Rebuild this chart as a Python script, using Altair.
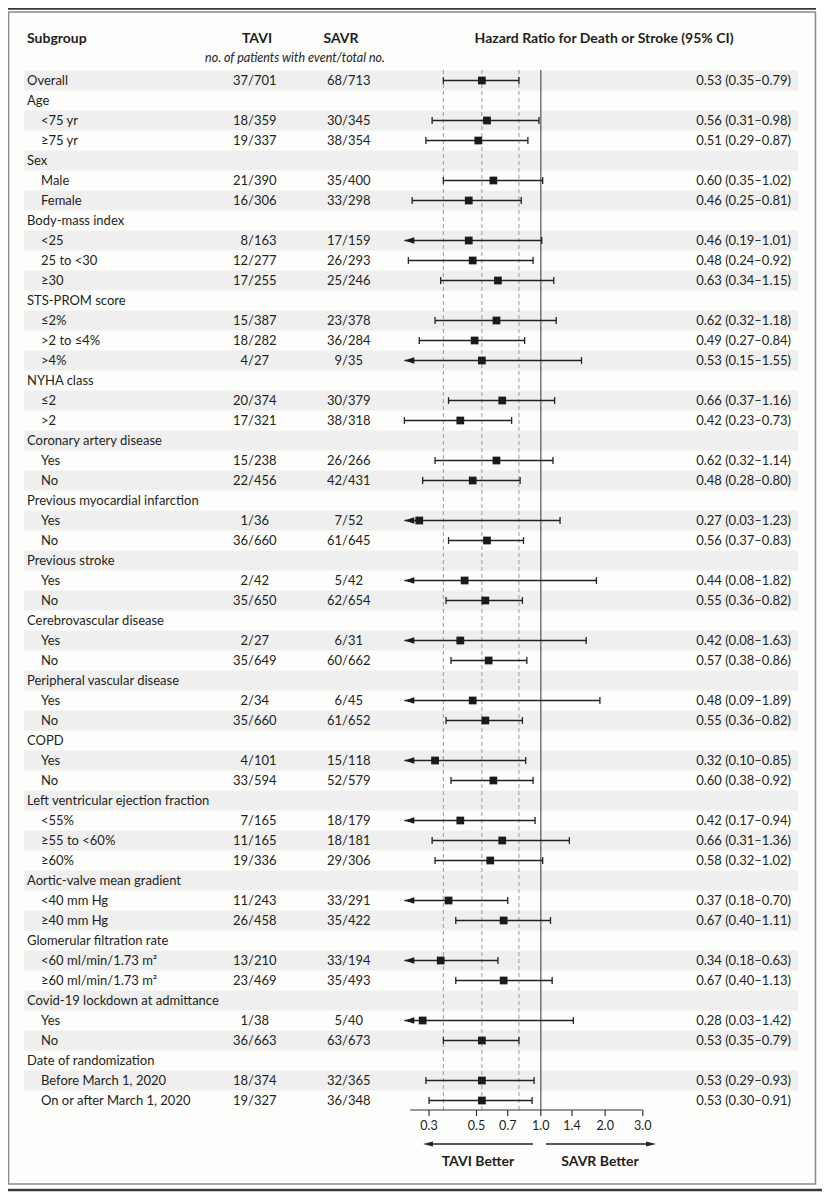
import altair as alt
import pandas as pd
import numpy as np

labels = [
    "Overall", "Age", "<75 yr", "≥75 yr", "Sex", "Male", "Female",
    "Body-mass index", "<25", "25 to <30", "≥30",
    "STS-PROM score", "≤2%", ">2 to ≤4%", ">4%",
    "NYHA class", "≤2", ">2",
    "Coronary artery disease", "Yes", "No",
    "Previous myocardial infarction", "Yes", "No",
    "Previous stroke", "Yes", "No",
    "Cerebrovascular disease", "Yes", "No",
    "Peripheral vascular disease", "Yes", "No",
    "COPD", "Yes", "No",
    "Left ventricular ejection fraction", "<55%", "≥55 to <60%", "≥60%",
    "Aortic-valve mean gradient", "<40 mm Hg", "≥40 mm Hg",
    "Glomerular filtration rate", "<60 ml/min/1.73 m²", "≥60 ml/min/1.73 m²",
    "Covid-19 lockdown at admittance", "Yes", "No",
    "Date of randomization", "Before March 1, 2020", "On or after March 1, 2020",
]
level = [0, 0, 1, 1, 0, 1, 1,
         0, 1, 1, 1,
         0, 1, 1, 1,
         0, 1, 1,
         0, 1, 1,
         0, 1, 1,
         0, 1, 1,
         0, 1, 1,
         0, 1, 1,
         0, 1, 1,
         0, 1, 1, 1,
         0, 1, 1,
         0, 1, 1,
         0, 1, 1,
         0, 1, 1]
N = None
tavi_events = [37, N, 18, 19, N, 21, 16, N, 8, 12, 17, N, 15, 18, 4, N, 20, 17, N, 15, 22,
               N, 1, 36, N, 2, 35, N, 2, 35, N, 2, 35, N, 4, 33, N, 7, 11, 19, N, 11, 26,
               N, 13, 23, N, 1, 36, N, 18, 19]
tavi_total = [701, N, 359, 337, N, 390, 306, N, 163, 277, 255, N, 387, 282, 27, N, 374, 321, N, 238, 456,
              N, 36, 660, N, 42, 650, N, 27, 649, N, 34, 660, N, 101, 594, N, 165, 165, 336, N, 243, 458,
              N, 210, 469, N, 38, 663, N, 374, 327]
savr_events = [68, N, 30, 38, N, 35, 33, N, 17, 26, 25, N, 23, 36, 9, N, 30, 38, N, 26, 42,
               N, 7, 61, N, 5, 62, N, 6, 60, N, 6, 61, N, 15, 52, N, 18, 18, 29, N, 33, 35,
               N, 33, 35, N, 5, 63, N, 32, 36]
savr_total = [713, N, 345, 354, N, 400, 298, N, 159, 293, 246, N, 378, 284, 35, N, 379, 318, N, 266, 431,
              N, 52, 645, N, 42, 654, N, 31, 662, N, 45, 652, N, 118, 579, N, 179, 181, 306, N, 291, 422,
              N, 194, 493, N, 40, 673, N, 365, 348]
hazard = [0.53, N, 0.56, 0.51, N, 0.60, 0.46, N, 0.46, 0.48, 0.63, N, 0.62, 0.49, 0.53, N, 0.66, 0.42,
          N, 0.62, 0.48, N, 0.27, 0.56, N, 0.44, 0.55, N, 0.42, 0.57, N, 0.48, 0.55, N, 0.32, 0.60,
          N, 0.42, 0.66, 0.58, N, 0.37, 0.67, N, 0.34, 0.67, N, 0.28, 0.53, N, 0.53, 0.53]
ci_low = [0.35, N, 0.31, 0.29, N, 0.35, 0.25, N, 0.19, 0.24, 0.34, N, 0.32, 0.27, 0.15, N, 0.37, 0.23,
          N, 0.32, 0.28, N, 0.03, 0.37, N, 0.08, 0.36, N, 0.08, 0.38, N, 0.09, 0.36, N, 0.10, 0.38,
          N, 0.17, 0.31, 0.32, N, 0.18, 0.40, N, 0.18, 0.40, N, 0.03, 0.35, N, 0.29, 0.30]
ci_high = [0.79, N, 0.98, 0.87, N, 1.02, 0.81, N, 1.01, 0.92, 1.15, N, 1.18, 0.84, 1.55, N, 1.16, 0.73,
           N, 1.14, 0.80, N, 1.23, 0.83, N, 1.82, 0.82, N, 1.63, 0.86, N, 1.89, 0.82, N, 0.85, 0.92,
           N, 0.94, 1.36, 1.02, N, 0.70, 1.11, N, 0.63, 1.13, N, 1.42, 0.79, N, 0.93, 0.91]
tick_values = [0.3, 0.5, 0.7, 1.0, 1.4, 2.0, 3.0]
x_domain = [0.23, 3.0]

df = pd.DataFrame({
    "row": list(range(len(labels))), "label": labels, "level": level,
    "te": tavi_events, "tt": tavi_total, "se": savr_events, "st": savr_total,
    "hr": hazard, "lo": ci_low, "hi": ci_high,
})

def num(v):
    return "" if pd.isna(v) else str(int(v))

def den(v):
    return "" if pd.isna(v) else "/" + str(int(v))

df["tavi_num"] = df["te"].map(num)
df["tavi_den"] = df["tt"].map(den)
df["savr_num"] = df["se"].map(num)
df["savr_den"] = df["st"].map(den)
df["hr_text"] = [
    "" if pd.isna(h) else f"{h:.2f} ({l:.2f}–{u:.2f})" for h, l, u in zip(df.hr, df.lo, df.hi)
]
df["lo_plot"] = np.maximum(df["lo"], x_domain[0])
df["ra"] = df["row"] - 0.17
df["rb"] = df["row"] + 0.17
df["r0"] = df["row"] - 0.5
df["r1"] = df["row"] + 0.5
dfp = df[df["hr"].notna()].copy()

nrow = len(labels)
y_scale = alt.Scale(domain=[0, nrow - 1], range=[72.5, 72.5 + 20 * (nrow - 1)], zero=False, nice=False)
x_scale = alt.Scale(type="log", domain=x_domain, range=[396.4, 634.8], nice=False)

FONT = "Lato"
TXT = "#231f20"
one = pd.DataFrame({"k": [0]})

def Y(f):
    return alt.Y(f"{f}:Q", scale=y_scale, axis=None)

def X(f):
    return alt.X(f"{f}:Q", scale=x_scale, axis=None)

layers = []

# frame
layers.append(alt.Chart(one).mark_rule(color="#3a3a3a", strokeWidth=2.5).encode(
    x=alt.value(0), x2=alt.value(808), y=alt.value(0.5)))
layers.append(alt.Chart(one).mark_rect(fill="#fdfdfb", stroke="#8a8a8a", strokeWidth=1.5).encode(
    x=alt.value(0.5), x2=alt.value(807.5), y=alt.value(4), y2=alt.value(1176)))
layers.append(alt.Chart(one).mark_rule(color="#3a3a3a", strokeWidth=2.5).encode(
    x=alt.value(0), x2=alt.value(814), y=alt.value(1182)))

# shaded rows
layers.append(alt.Chart(df).transform_filter("datum.row % 2 == 0").mark_rect(color="#efefef").encode(
    x=alt.value(16), x2=alt.value(790), y=Y("r0"), y2="r1:Q"))

# reference lines
ov = dfp.iloc[0]
refs = pd.DataFrame({"v": [ov["lo"], ov["hr"], ov["hi"]]})
layers.append(alt.Chart(refs).mark_rule(color="#9a9a9a", strokeWidth=1, strokeDash=[4, 3]).encode(
    x=X("v"), y=alt.value(62), y2=alt.value(1102)))
layers.append(alt.Chart(one).mark_rule(color="#555555", strokeWidth=1.2).encode(
    x=alt.datum(1.0, scale=x_scale, axis=None), y=alt.value(62), y2=alt.value(1102)))

# forest
layers.append(alt.Chart(dfp).mark_rule(color="#222222", strokeWidth=1.6).encode(
    x=X("lo_plot"), x2="hi:Q", y=Y("row")))
layers.append(alt.Chart(dfp).mark_rule(color="#222222", strokeWidth=1.3).encode(
    x=X("hi"), y=Y("ra"), y2="rb:Q"))
layers.append(alt.Chart(dfp).transform_filter(f"datum.lo >= {x_domain[0]}").mark_rule(
    color="#222222", strokeWidth=1.3).encode(x=X("lo"), y=Y("ra"), y2="rb:Q"))
layers.append(alt.Chart(dfp).transform_filter(f"datum.lo < {x_domain[0]}").mark_point(
    shape="M 0 0 L 3.3 -1.05 L 3.3 1.05 Z", size=36, filled=True, color="#1a1a1a", opacity=1).encode(
    x=X("lo_plot"), y=Y("row")))
layers.append(alt.Chart(dfp).mark_square(size=60, color="#1a1a1a", opacity=1).encode(
    x=X("hr"), y=Y("row")))

# table text
tstyle = dict(font=FONT, fontSize=13, color=TXT, baseline="middle")
for lv, xpos in [(0, 19), (1, 33)]:
    layers.append(alt.Chart(df).transform_filter(f"datum.level == {lv}").mark_text(align="left", **tstyle).encode(
        x=alt.value(xpos), y=Y("row"), text="label:N"))
for f, xpos, al in [("tavi_num", 240, "right"), ("tavi_den", 240, "left"),
                    ("savr_num", 334, "right"), ("savr_den", 334, "left"),
                    ("hr_text", 783, "right")]:
    layers.append(alt.Chart(dfp).mark_text(align=al, **tstyle).encode(
        x=alt.value(xpos), y=Y("row"), text=f"{f}:N"))

# headers
hstyle = dict(font=FONT, fontSize=14, fontWeight="bold", color=TXT, baseline="middle")
for txt, xpos, al in [("Subgroup", 19, "left"), ("TAVI", 249, "center"), ("SAVR", 333, "center"),
                      ("Hazard Ratio for Death or Stroke (95% CI)", 596, "center")]:
    layers.append(alt.Chart(one).mark_text(text=txt, align=al, **hstyle).encode(
        x=alt.value(xpos), y=alt.value(30.5)))
layers.append(alt.Chart(one).mark_text(text="no. of patients with event/total no.", align="center",
                                       font=FONT, fontSize=12.5, fontStyle="italic", color=TXT,
                                       baseline="middle").encode(x=alt.value(287), y=alt.value(50)))

# x axis
ticks = pd.DataFrame({"t": tick_values})
layers.append(alt.Chart(one).mark_rule(color="#333333", strokeWidth=1.2).encode(
    x=alt.datum(0.245, scale=x_scale, axis=None), x2=alt.datum(3.0), y=alt.value(1102)))
layers.append(alt.Chart(ticks).mark_rule(color="#333333", strokeWidth=1.2).encode(
    x=X("t"), y=alt.value(1102), y2=alt.value(1108)))
layers.append(alt.Chart(ticks).mark_text(font=FONT, fontSize=12.5, color=TXT, baseline="middle").encode(
    x=X("t"), y=alt.value(1118), text=alt.Text("t:Q", format=".1f")))

# direction arrows
layers.append(alt.Chart(one).mark_rule(color="#222222", strokeWidth=1.4).encode(
    x=alt.value(419), x2=alt.value(525), y=alt.value(1136)))
layers.append(alt.Chart(one).mark_rule(color="#222222", strokeWidth=1.4).encode(
    x=alt.value(538), x2=alt.value(644), y=alt.value(1136)))
layers.append(alt.Chart(one).mark_point(shape="M 0 0 L 3.3 -0.8 L 3.3 0.8 Z", size=36, filled=True,
                                        color="#222222", opacity=1).encode(x=alt.value(415), y=alt.value(1136)))
layers.append(alt.Chart(one).mark_point(shape="M 0 0 L -3.3 -0.8 L -3.3 0.8 Z", size=36, filled=True,
                                        color="#222222", opacity=1).encode(x=alt.value(648), y=alt.value(1136)))
for txt, xpos in [("TAVI Better", 470), ("SAVR Better", 592)]:
    layers.append(alt.Chart(one).mark_text(text=txt, align="center", **hstyle).encode(
        x=alt.value(xpos), y=alt.value(1154)))

chart = alt.layer(*layers).properties(
    width=814, height=1184, padding=0, autosize="none", background="white"
).configure_view(stroke=None)

chart.save("out.html", embed_options={"renderer": "svg", "actions": False})
